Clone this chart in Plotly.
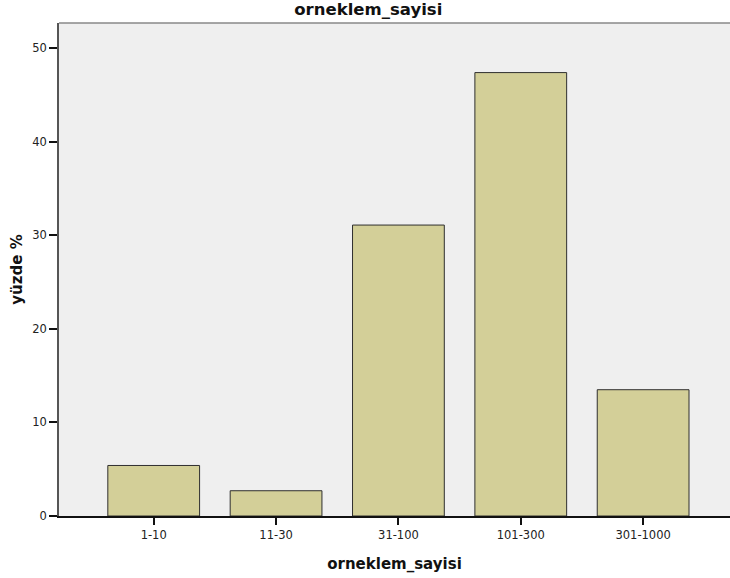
import plotly.graph_objects as go

categories = ["1-10", "11-30", "31-100", "101-300", "301-1000"]
percentages = [5.4, 2.7, 31.1, 47.4, 13.5]
y_ticks = [0, 10, 20, 30, 40, 50]

fig = go.Figure()
fig.add_trace(go.Bar(
    x=categories, y=percentages,
    marker=dict(color="#d3cf98", line=dict(color="#2f2f2f", width=1)),
    width=0.75,
))

font = "DejaVu Sans, Verdana, sans-serif"
fig.update_layout(
    width=730, height=578,
    margin=dict(l=59, r=0, t=23, b=62),
    paper_bgcolor="white", plot_bgcolor="#efefef",
    showlegend=False,
    font=dict(family=font, size=11.5, color="#222"),
    title=dict(text="<b>orneklem_sayisi</b>", xref="container", x=368.3 / 730, xanchor="center",
               yref="container", y=1 - 9.5 / 578, yanchor="middle",
               font=dict(size=16.5, color="#111")),
    xaxis=dict(
        type="category", range=[-0.774, 4.71],
        showline=True, linecolor="#111", linewidth=1.5,
        ticks="outside", ticklen=7, tickcolor="#111", tickwidth=1.5,
        showgrid=False, zeroline=False,
        title=dict(text="<b>orneklem_sayisi</b>", font=dict(size=15, color="#111"), standoff=18),
        tickfont=dict(size=11.5, color="#222"),
    ),
    yaxis=dict(
        range=[0, 52.7], tickvals=y_ticks,
        showline=True, linecolor="#555", linewidth=1.5,
        ticks="outside", ticklen=8, tickcolor="#111", tickwidth=1.5,
        showgrid=False, zeroline=False,
        title=dict(text="<b>yüzde %</b>", font=dict(size=15, color="#111"), standoff=6),
        tickfont=dict(size=11.5, color="#222"),
    ),
    shapes=[dict(type="line", xref="paper", yref="paper", x0=0, x1=1, y0=1, y1=1,
                 line=dict(color="#888", width=1.5))],
)

fig.write_html("out.html", config={"displayModeBar": False},
               post_script="document.body.style.margin='0px';")
